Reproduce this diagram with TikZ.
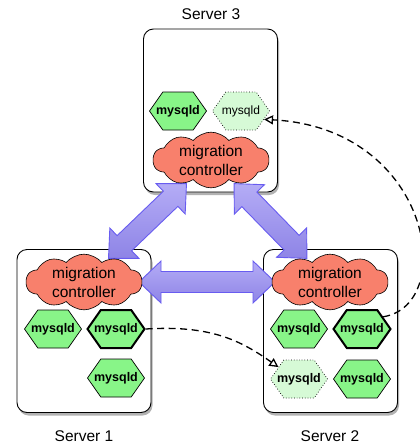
\documentclass[tikz,border=0pt]{standalone}
\usepackage{fontspec}
\setmainfont{Liberation Sans}
\usetikzlibrary{shapes.symbols,shadows,calc,arrows.meta}
\definecolor{hexgreen}{RGB}{136,245,136}
\definecolor{hexlight}{RGB}{214,250,214}
\definecolor{cloudred}{RGB}{248,128,108}
\definecolor{arrtop}{RGB}{180,172,246}
\definecolor{arrbot}{RGB}{142,132,230}
\definecolor{arrline}{RGB}{104,92,240}
\newcommand\hxt[1]{\makebox[0pt][c]{#1}}
\tikzset{
  server/.style={draw=black, line width=0.9pt, rounded corners=10pt, fill=white,
    minimum width=134pt, minimum height=163pt, inner sep=0pt,
    drop shadow={shadow xshift=1.5pt, shadow yshift=-3pt, opacity=0.3, fill=black}},
  ctrl/.style={cloud, cloud puffs=10, cloud puff arc=100, aspect=2.4, draw=black,
    line width=0.6pt, fill=cloudred, minimum width=116pt, minimum height=48pt,
    inner sep=0pt, align=center, font=\fontsize{15.5}{19}\selectfont},
  hexbase/.style={signal, signal to=east and west, signal pointer angle=110,
    minimum width=57pt, minimum height=38pt, inner sep=0pt, line width=0.7pt},
  hexa/.style={hexbase, draw=black, fill=hexgreen, font=\fontsize{12.5}{15}\selectfont\bfseries},
  hexthick/.style={hexa, line width=2pt},
  hexghost/.style={hexbase, draw=black, dotted, fill=hexlight, font=\fontsize{12.5}{15}\selectfont\bfseries},
  hexghostreg/.style={hexghost, font=\fontsize{12}{15}\selectfont},
  bigarrow/.style={draw=arrline, line width=0.9pt, top color=arrtop, bottom color=arrbot, line join=miter},
  mig/.style={line width=1.3pt, dash pattern=on 7pt off 4.5pt,
    -{Triangle[fill=white, length=9pt, width=9pt]}},
  lbl/.style={font=\fontsize{15.5}{18}\selectfont, inner sep=0pt}
}
\newcommand\bigarrow[3]{%
  \path ($(#1.center)!#3!(#2.center)$) coordinate (#1#2s)
        ($(#2.center)!#3!(#1.center)$) coordinate (#1#2e);
  \path ($(#1#2s)!22pt!(#2.center)$) coordinate (#1#2hs)
        ($(#1#2e)!22pt!(#1.center)$) coordinate (#1#2he);
  \draw[bigarrow] (#1#2s) -- ($(#1#2hs)!21pt!90:(#2.center)$) -- ($(#1#2hs)!10.5pt!90:(#2.center)$)
    -- ($(#1#2he)!10.5pt!-90:(#1.center)$) -- ($(#1#2he)!21pt!-90:(#1.center)$) -- (#1#2e)
    -- ($(#1#2he)!21pt!90:(#1.center)$) -- ($(#1#2he)!10.5pt!90:(#1.center)$)
    -- ($(#1#2hs)!10.5pt!-90:(#2.center)$) -- ($(#1#2hs)!21pt!-90:(#2.center)$) -- cycle;}
\begin{document}
\begin{tikzpicture}[x=1pt, y=-1pt]
\useasboundingbox (0,0) rectangle (420,445);
% server boxes
\node[server] (s3) at (210.5,110.5) {};
\node[server] (s1) at (84,331) {};
\node[server] (s2) at (330.5,331) {};
% cloud positions
\path (211,160) coordinate (p3) (84,282) coordinate (p1) (330,282) coordinate (p2);
\node[ctrl, draw=none, fill=none, text opacity=0] (c3) at (p3) {migration\\controller};
\node[ctrl, draw=none, fill=none, text opacity=0] (c1) at (p1) {migration\\controller};
\node[ctrl, draw=none, fill=none, text opacity=0] (c2) at (p2) {migration\\controller};
% big arrows
\bigarrow{c3}{c1}{34pt}
\bigarrow{c3}{c2}{33pt}
\bigarrow{c1}{c2}{55pt}
% clouds
\node[ctrl] (m3) at (p3) {migration\\controller};
\node[ctrl] (m1) at (p1) {migration\\controller};
\node[ctrl] (m2) at (p2) {migration\\controller};
% mysqld instances
\node[hexa] (h3a) at (178,111) {\hxt{mysqld}};
\node[hexghostreg] (h3b) at (241,111) {\hxt{mysqld}};
\node[hexa] (h1a) at (53,329) {\hxt{mysqld}};
\node[hexthick] (h1b) at (116,329) {\hxt{mysqld}};
\node[hexa] (h1c) at (116,378) {\hxt{mysqld}};
\node[hexa] (h2a) at (299,329) {\hxt{mysqld}};
\node[hexthick] (h2b) at (362,329) {\hxt{mysqld}};
\node[hexghost] (h2c) at (299,379) {\hxt{mysqld}};
\node[hexa] (h2d) at (362,379) {\hxt{mysqld}};
% migrations
\draw[mig] (h1b.east) .. controls (210,325) and (240,340) .. (h2c.150);
\draw[mig] (h2b.30) .. controls (458,305) and (432,128) .. (h3b.-20);
% labels
\node[lbl] (l3) at (211,14) {Server 3};
\node[lbl] (l1) at (84,436) {Server 1};
\node[lbl] (l2) at (330,436) {Server 2};
\end{tikzpicture}
\end{document}
